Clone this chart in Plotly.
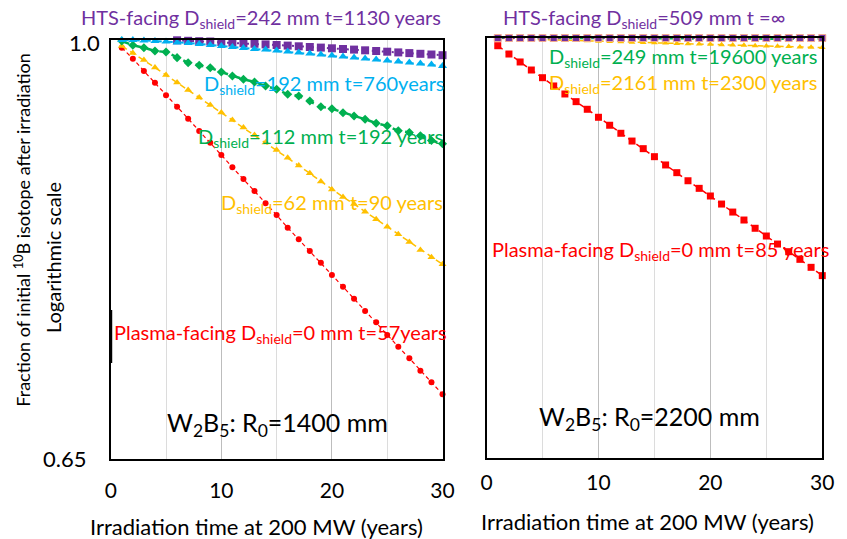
import math
import plotly.graph_objects as go

W, H = 847, 539
FONT = "Lato"

# colours
RED = "#FF0000"
YELLOW = "#FFC000"
GREEN = "#00B050"
CYAN = "#00B0F0"
PURPLE = "#7030A0"

years = list(range(1, 31))
years_hts = list(range(6, 31))

# R0 = 1400 mm: fraction of initial 10B remaining
left_plasma = [0.9921, 0.9810, 0.9686, 0.9570, 0.9447, 0.9337, 0.9223, 0.9107, 0.8998, 0.8885,
               0.8773, 0.8668, 0.8562, 0.8454, 0.8353, 0.8245, 0.8147, 0.8050, 0.7953, 0.7853,
               0.7759, 0.7664, 0.7568, 0.7481, 0.7384, 0.7295, 0.7209, 0.7117, 0.7033, 0.6947]
left_62 = [0.9938, 0.9867, 0.9796, 0.9721, 0.9646, 0.9572, 0.9499, 0.9426, 0.9354, 0.9282,
           0.9210, 0.9140, 0.9069, 0.9000, 0.8931, 0.8860, 0.8789, 0.8719, 0.8646, 0.8575,
           0.8509, 0.8448, 0.8382, 0.8316, 0.8253, 0.8189, 0.8124, 0.8058, 0.7998, 0.7940]
left_112 = [0.9990, 0.9946, 0.9921, 0.9888, 0.9877, 0.9820, 0.9769, 0.9743, 0.9719, 0.9676,
            0.9637, 0.9604, 0.9578, 0.9538, 0.9506, 0.9457, 0.9441, 0.9392, 0.9337, 0.9318,
            0.9280, 0.9249, 0.9218, 0.9180, 0.9155, 0.9109, 0.9093, 0.9063, 0.9018, 0.8988]
left_192 = [1.0000, 1.0000, 0.99949, 0.99897, 0.99846, 0.99743, 0.99692, 0.99590, 0.99487, 0.99385,
            0.99283, 0.99181, 0.99079, 0.99028, 0.98926, 0.98824, 0.98723, 0.98621, 0.98520, 0.98419,
            0.98318, 0.98217, 0.98116, 0.98015, 0.97914, 0.97814, 0.97713, 0.97613, 0.97513, 0.97362]
left_hts = [0.99969, 0.99918, 0.99877, 0.99846, 0.99795, 0.99733, 0.99672, 0.99610, 0.99549, 0.99487,
            0.99426, 0.99354, 0.99283, 0.99222, 0.99150, 0.99079, 0.99018, 0.98946, 0.98875, 0.98804,
            0.98733, 0.98662, 0.98591, 0.98520, 0.98449]

# R0 = 2200 mm
right_plasma = [0.9921, 0.9837, 0.9757, 0.9677, 0.9601, 0.9520, 0.9442, 0.9368, 0.9295, 0.9219,
                0.9144, 0.9069, 0.8997, 0.8927, 0.8854, 0.8779, 0.8710, 0.8638, 0.8571, 0.8504,
                0.8434, 0.8365, 0.8297, 0.8227, 0.8162, 0.8095, 0.8032, 0.7969, 0.7904, 0.7837]
right_2161 = [0.9997, 0.9993, 0.9990, 0.9987, 0.9984, 0.9980, 0.9977, 0.9974, 0.9971, 0.9967,
              0.9964, 0.9961, 0.9957, 0.9954, 0.9951, 0.9948, 0.9944, 0.9941, 0.9938, 0.9935,
              0.9931, 0.9928, 0.9925, 0.9922, 0.9918, 0.9915, 0.9912, 0.9909, 0.9905, 0.9902]
right_249 = [1.0000, 0.9999, 0.9999, 0.9999, 0.9998, 0.9998, 0.9998, 0.9997, 0.9997, 0.9996,
             0.9996, 0.9996, 0.9995, 0.9995, 0.9995, 0.9994, 0.9994, 0.9994, 0.9993, 0.9993,
             0.9993, 0.9992, 0.9992, 0.9992, 0.9991, 0.9991, 0.9990, 0.9990, 0.9990, 0.9989]
right_hts = [1.0] * 30

x_ticks = [0, 10, 20, 30]
x_minor = [5, 15, 25]
y_ticks = ["1.0", "0.65"]
Y_MIN, Y_MAX = 0.65, 1.0


def px_x(p):
    return p / W


def px_y(p):
    return 1 - p / H


def series(x, y, color, symbol, size, dash, width, xa, ya, fill=None, edge=None):
    marker = dict(symbol=symbol, size=size, color=fill or color,
                  line=dict(width=1 if edge else 0, color=edge or color))
    return go.Scatter(x=x, y=y, mode="lines+markers", xaxis=xa, yaxis=ya,
                      line=dict(color=color, dash=dash, width=width),
                      marker=marker, cliponaxis=False, showlegend=False,
                      hoverinfo="skip")


fig = go.Figure()

# left panel
fig.add_trace(series(years, left_plasma, RED, "circle", 6, "4px,3px", 1.2, "x", "y"))
fig.add_trace(series(years, left_62, YELLOW, "triangle-up", 7, "6px,4px", 1.5, "x", "y"))
fig.add_trace(series(years, left_112, GREEN, "diamond", 7, "8px,5px", 2.5, "x", "y"))
fig.add_trace(series(years_hts, left_hts, PURPLE, "square", 8, "2px,3px", 2, "x", "y"))
fig.add_trace(series(years, left_192, CYAN, "triangle-up", 8, "7px,4px", 2, "x", "y"))

# right panel
fig.add_trace(series(years, right_plasma, RED, "square", 7, "6px,4px", 1.5, "x2", "y2"))
fig.add_trace(series(years, right_2161, YELLOW, "triangle-up", 6, "6px,4px", 1.5, "x2", "y2"))
fig.add_trace(series(years, right_249, GREEN, "diamond", 5, "6px,4px", 2, "x2", "y2"))
fig.add_trace(series(years, right_hts, PURPLE, "square", 7, "2px,3px", 2, "x2", "y2",
                     fill=PURPLE, edge="#F2A98F"))

xcommon = dict(range=[0, 30], tickvals=x_ticks, ticks="", showgrid=True,
               gridcolor="#BDBDBD", gridwidth=1,
               minor=dict(tickvals=x_minor, showgrid=True, gridcolor="#DCDCDC", gridwidth=1),
               showline=True, linecolor="black", linewidth=1.5, mirror=True,
               zeroline=False, tickfont=dict(family=FONT, size=21, color="black"))
yr = [math.log10(Y_MIN), math.log10(Y_MAX)]
ycommon = dict(type="log", range=yr, showticklabels=False, showgrid=False,
               showline=True, linecolor="black", linewidth=1.5, mirror=True,
               zeroline=False, ticks="")

fig.update_layout(
    width=W, height=H, margin=dict(l=0, r=0, t=0, b=0),
    paper_bgcolor="white", plot_bgcolor="white",
    font=dict(family=FONT, color="black"),
    xaxis=dict(domain=[px_x(107), px_x(446)], anchor="y", ticklabelstandoff=12, **xcommon),
    yaxis=dict(domain=[px_y(459), px_y(40)], anchor="x", **ycommon),
    xaxis2=dict(domain=[px_x(491), px_x(834)], anchor="y2", ticklabelstandoff=5, **xcommon),
    yaxis2=dict(domain=[px_y(458), px_y(38)], anchor="x2", **ycommon),
)


def label(text, x, y, color, size=20, xanchor="left", angle=0):
    fig.add_annotation(text=text, x=px_x(x), y=px_y(y), xref="paper", yref="paper",
                       xanchor=xanchor, yanchor="middle", showarrow=False,
                       textangle=angle, font=dict(family=FONT, size=size, color=color))


# y tick labels and axis titles
label(y_ticks[0], 98, 43, "black", 22, xanchor="right")
label(y_ticks[1], 84, 458, "black", 22, xanchor="right")
label("Fraction of initial <sup>10</sup>B isotope after irradiation", 17, 230, "black", 18, "center", -90)
label("Logarithmic scale", 48, 257, "black", 20, "center", -90)
label("Irradiation time at 200 MW (years)", 256, 526, "black", 22, "center")
label("Irradiation time at 200 MW (years)", 655, 521, "black", 22, "center")

# series labels, R0 = 1400 mm
label("HTS-facing D<sub>shield</sub>=242 mm t=1130 years", 261, 19, PURPLE, 20, "center")
label("D<sub>shield</sub>=192 mm t=760years", 200, 84, CYAN, 20)
label("D<sub>shield</sub>=112 mm t=192 years", 194, 137, GREEN, 20)
label("D<sub>shield</sub>=62 mm t=90 years", 218, 203, YELLOW, 20)
label("Plasma-facing D<sub>shield</sub>=0 mm t=57years", 108, 333, RED, 20)
label("W<sub>2</sub>B<sub>5</sub>: R<sub>0</sub>=1400 mm", 277, 424, "black", 25, "center")

# series labels, R0 = 2200 mm
label("HTS-facing D<sub>shield</sub>=509 mm t =∞", 652, 19, PURPLE, 20, "center")
label("D<sub>shield</sub>=249 mm t=19600 years", 553, 58, GREEN, 20)
label("D<sub>shield</sub>=2161 mm t=2300 years", 553, 83, YELLOW, 20)
label("Plasma-facing D<sub>shield</sub>=0 mm t=85 years", 494, 250, RED, 20)
label("W<sub>2</sub>B<sub>5</sub>: R<sub>0</sub>=2200 mm", 657, 418, "black", 25, "center")

# heavier stretch of the left spine
fig.add_shape(type="line", xref="paper", yref="paper",
              x0=px_x(107), x1=px_x(107), y0=px_y(310), y1=px_y(363),
              line=dict(color="black", width=3))

fig.write_html("out.html")
